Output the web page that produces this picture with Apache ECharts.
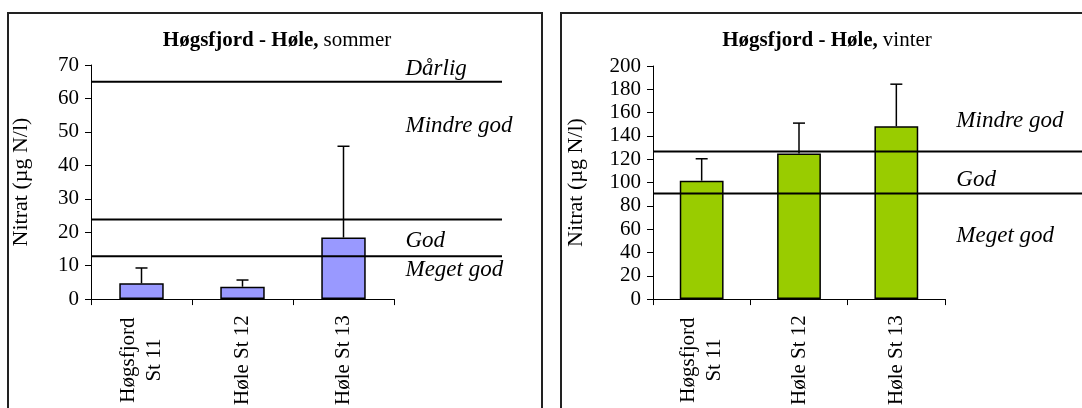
<!DOCTYPE html>
<html>
<head>
<meta charset="utf-8">
<script src="https://cdn.jsdelivr.net/npm/echarts@6/dist/echarts.min.js"></script>
<style>
  html, body { margin: 0; padding: 0; background: #fff; }
  #chart { width: 1082px; height: 408px; }
</style>
</head>
<body>
<div id="chart"></div>
<script>
const categories = ['Høgsfjord\nSt 11', 'Høle St 12', 'Høle St 13']

// sommer
const sommerMean = [4.7, 3.7, 18.4]
const sommerSd = [4.6, 2.0, 27.3]
const sommerLimits = [13, 24, 65]
const sommerZones = [
  { name: 'Dårlig', value: 68.8 },
  { name: 'Mindre god', value: 51.8 },
  { name: 'God', value: 17.6 },
  { name: 'Meget god', value: 8.9 }
]
const sommerTicks = [0, 10, 20, 30, 40, 50, 60, 70]

// vinter
const vinterMean = [101.6, 124.9, 148.3]
const vinterSd = [18.8, 26.1, 36.1]
const vinterLimits = [91, 127]
const vinterZones = [
  { name: 'Mindre god', value: 152.8 },
  { name: 'God', value: 103 },
  { name: 'Meget god', value: 54.6 }
]
const vinterTicks = [0, 20, 40, 60, 80, 100, 120, 140, 160, 180, 200]

const font = 'Liberation Serif'
const purple = '#9999ff'
const green = '#99cc00'

const chart = echarts.init(document.getElementById('chart'))

const catAxis = (gridIndex) => ({
  type: 'category',
  gridIndex,
  data: categories,
  boundaryGap: true,
  axisLine: { lineStyle: { color: '#000', width: 1 } },
  axisTick: { show: true, length: 6, lineStyle: { color: '#000' } },
  axisLabel: {
    rotate: 90,
    align: 'center',
    verticalAlign: 'middle',
    margin: 61,
    lineHeight: 26,
    fontFamily: font,
    fontSize: 21,
    color: '#000'
  }
})

const valAxis = (gridIndex, ticks, name, nameGap) => ({
  type: 'value',
  gridIndex,
  min: ticks[0],
  max: ticks[ticks.length - 1],
  interval: ticks[1] - ticks[0],
  name,
  nameLocation: 'middle',
  nameGap,
  nameTextStyle: { fontFamily: font, fontSize: 22, color: '#000' },
  axisLine: { show: true, lineStyle: { color: '#000', width: 1 } },
  axisTick: { show: true, length: 6, lineStyle: { color: '#000' } },
  splitLine: { show: false },
  axisLabel: { margin: 12, fontFamily: font, fontSize: 21, color: '#000' }
})

const hiddenX = (gridIndex) => ({ type: 'value', gridIndex, min: 0, max: 1, show: false })
const hiddenY = (gridIndex, ticks) => ({
  type: 'value', gridIndex, min: ticks[0], max: ticks[ticks.length - 1], show: false
})

const errorSeries = (axisIndex, mean, sd) => ({
  type: 'custom',
  xAxisIndex: axisIndex,
  yAxisIndex: axisIndex,
  z: 5,
  data: mean.map((m, i) => [i, m, m + sd[i]]),
  renderItem: (params, api) => {
    const base = api.coord([api.value(0), api.value(1)])
    const top = api.coord([api.value(0), api.value(2)])
    const style = { stroke: '#000', lineWidth: 1.5 }
    return {
      type: 'group',
      children: [
        { type: 'line', shape: { x1: base[0], y1: base[1], x2: top[0], y2: top[1] }, style },
        { type: 'line', shape: { x1: top[0] - 6, y1: top[1], x2: top[0] + 6, y2: top[1] }, style }
      ]
    }
  }
})

const limitSeries = (axisIndex, limits) => limits.map((v) => ({
  type: 'line',
  xAxisIndex: axisIndex,
  yAxisIndex: axisIndex,
  z: 6,
  symbol: 'none',
  silent: true,
  lineStyle: { color: '#000', width: 2 },
  data: [[0, v], [1, v]]
}))

const zoneSeries = (axisIndex, zones, xFrac) => ({
  type: 'scatter',
  xAxisIndex: axisIndex,
  yAxisIndex: axisIndex,
  symbolSize: 1,
  itemStyle: { color: 'rgba(0,0,0,0)', opacity: 1 },
  silent: true,
  label: {
    show: true,
    position: 'right',
    distance: 0,
    formatter: (p) => p.name,
    fontFamily: font,
    fontStyle: 'italic',
    fontSize: 23,
    color: '#000'
  },
  data: zones.map((z) => ({ name: z.name, value: [xFrac, z.value] }))
})

const titleRich = {
  b: { fontFamily: font, fontWeight: 'bold', fontSize: 21, color: '#000' },
  n: { fontFamily: font, fontWeight: 'normal', fontSize: 21, color: '#000' }
}

const option = {
  animation: false,
  title: [
    { text: '{b|Høgsfjord - Høle,} {n|sommer}', left: 277, top: 30, textAlign: 'center', padding: 0, textStyle: { fontWeight: 'normal', rich: titleRich } },
    { text: '{b|Høgsfjord - Høle,} {n|vinter}', left: 827, top: 30, textAlign: 'center', padding: 0, textStyle: { fontWeight: 'normal', rich: titleRich } }
  ],
  graphic: [
    { type: 'rect', shape: { x: 8, y: 13, width: 534, height: 420 }, style: { fill: 'none', stroke: '#222', lineWidth: 2 } },
    { type: 'rect', shape: { x: 561, y: 13, width: 540, height: 420 }, style: { fill: 'none', stroke: '#222', lineWidth: 2 } }
  ],
  grid: [
    { left: 91, top: 65, width: 303, height: 235 },
    { left: 653, top: 66, width: 292, height: 234 },
    { left: 91, top: 65, width: 411, height: 235 },
    { left: 653, top: 66, width: 429, height: 234 }
  ],
  xAxis: [catAxis(0), catAxis(1), hiddenX(2), hiddenX(3)],
  yAxis: [
    valAxis(0, sommerTicks, 'Nitrat (µg N/l)', 59),
    valAxis(1, vinterTicks, 'Nitrat (µg N/l)', 66),
    hiddenY(2, sommerTicks),
    hiddenY(3, vinterTicks)
  ],
  series: [
    {
      type: 'bar',
      xAxisIndex: 0,
      yAxisIndex: 0,
      barWidth: '44%',
      itemStyle: { color: purple, borderColor: '#000', borderWidth: 1.5 },
      data: sommerMean
    },
    errorSeries(0, sommerMean, sommerSd),
    {
      type: 'bar',
      xAxisIndex: 1,
      yAxisIndex: 1,
      barWidth: '45%',
      itemStyle: { color: green, borderColor: '#000', borderWidth: 1.5 },
      data: vinterMean
    },
    errorSeries(1, vinterMean, vinterSd),
    ...limitSeries(2, sommerLimits),
    ...limitSeries(3, vinterLimits),
    zoneSeries(2, sommerZones, 0.764),
    zoneSeries(3, vinterZones, 0.706)
  ]
}

chart.setOption(option)
</script>
</body>
</html>
